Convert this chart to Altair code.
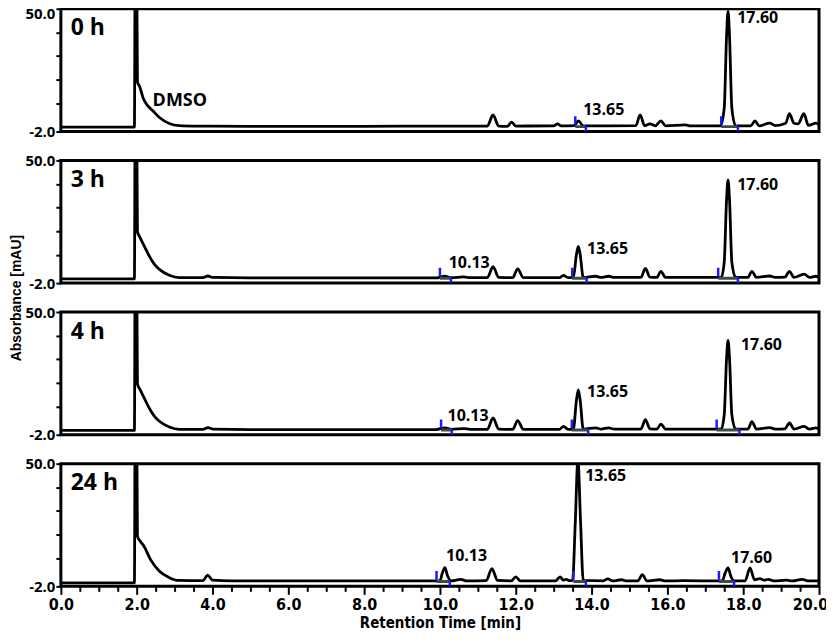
import altair as alt
import pandas as pd

# ---------------- data ----------------
panel_names = ["0 h", "3 h", "4 h", "24 h"]

# trace of each chromatogram: retention time [min] and absorbance [mAU]
t_0h = [0.0, 1.94, 1.96, 2.00, 2.02, 2.08, 2.17, 2.30, 2.43, 2.60, 2.86, 3.12, 3.60, 5.0, 8.0, 10.0,
        11.25, 11.40, 11.55, 11.78, 11.89, 12.00, 13.00, 13.10, 13.20, 13.55, 13.65, 13.78, 14.40,
        15.17, 15.28, 15.40, 15.54, 15.68, 15.83, 15.95, 16.48, 16.60, 17.40, 17.50, 17.56, 17.60,
        17.64, 17.70, 17.80, 18.20, 18.31, 18.42, 18.70, 18.85, 19.12, 19.22, 19.34, 19.45, 19.60,
        19.72, 19.92, 20.0]
v_0h = [-0.2, -0.2, 70, 70, 19.0, 17.0, 12.2, 8.7, 6.7, 3.9, 1.4, 0.5, 0.3, 0.2, 0.2, 0.3,
        0.3, 5.0, 0.3, 0.2, 2.0, 0.3, 0.4, 1.2, 0.4, 0.5, 2.5, 0.4, 0.4,
        0.5, 5.0, 0.5, 1.2, 0.4, 2.5, 0.4, 0.8, 0.4, 0.4, 8.0, 38.0, 49.0,
        38.0, 8.0, 0.4, 0.4, 2.5, 0.4, 1.5, 0.5, 1.5, 5.5, 1.5, 1.2, 5.5,
        0.6, 1.5, 0.8]

t_3h = [0.0, 1.94, 1.96, 2.00, 2.02, 2.08, 2.21, 2.34, 2.47, 2.60, 2.86, 3.12, 3.75, 3.88, 4.00, 5.0,
        9.90, 10.13, 10.30, 10.63, 10.80, 11.25, 11.40, 11.55, 11.92, 12.05, 12.20, 13.15, 13.26,
        13.38, 13.52, 13.60, 13.65, 13.70, 13.78, 14.11, 14.25, 14.45, 14.60, 15.30, 15.42, 15.54,
        15.72, 15.83, 15.95, 16.50, 17.42, 17.50, 17.56, 17.60, 17.64, 17.70, 17.80, 18.12, 18.23,
        18.35, 18.70, 18.85, 19.10, 19.22, 19.34, 19.61, 19.75, 19.92, 20.0]
v_3h = [-0.2, -0.2, 70, 70, 19.7, 17.6, 13.4, 9.2, 5.9, 3.8, 1.3, 0.3, 0.3, 1.0, 0.4, 0.2,
        0.2, 0.9, 0.3, 0.6, 0.3, 0.3, 5.0, 0.4, 0.3, 4.0, 0.3, 0.3, 1.3,
        0.3, 0.4, 10.0, 13.6, 10.0, 0.4, 0.9, 0.4, 0.9, 0.4, 0.4, 4.2, 0.5,
        0.4, 3.0, 0.4, 0.4, 0.4, 7.0, 33.0, 41.7, 33.0, 7.0, 0.4, 0.4, 3.0,
        0.4, 1.0, 0.4, 0.5, 3.0, 0.4, 1.8, 0.4, 0.9, 0.3]

t_4h = [0.0, 1.94, 1.96, 2.00, 2.02, 2.08, 2.21, 2.34, 2.47, 2.60, 2.86, 3.12, 3.75, 3.88, 4.00, 5.0,
        9.90, 10.13, 10.30, 10.63, 10.80, 11.25, 11.40, 11.55, 11.92, 12.05, 12.20, 13.15, 13.26,
        13.38, 13.52, 13.60, 13.65, 13.70, 13.78, 14.11, 14.25, 14.45, 14.60, 15.30, 15.42, 15.54,
        15.72, 15.83, 15.95, 16.50, 17.42, 17.50, 17.56, 17.60, 17.64, 17.70, 17.80, 18.12, 18.23,
        18.35, 18.70, 18.85, 19.10, 19.22, 19.34, 19.61, 19.75, 19.92, 20.0]
v_4h = [-0.2, -0.2, 70, 70, 19.5, 17.4, 13.2, 9.0, 5.8, 3.7, 1.3, 0.3, 0.3, 1.0, 0.4, 0.2,
        0.2, 0.9, 0.3, 0.6, 0.3, 0.3, 5.1, 0.4, 0.3, 4.0, 0.3, 0.3, 1.5,
        0.3, 0.4, 12.5, 17.0, 12.5, 0.4, 0.9, 0.4, 0.9, 0.4, 0.4, 4.4, 0.5,
        0.4, 2.5, 0.4, 0.4, 0.4, 6.5, 30.0, 38.0, 30.0, 6.5, 0.4, 0.4, 3.5,
        0.4, 1.0, 0.4, 0.5, 3.0, 0.4, 1.5, 0.4, 0.9, 0.3]

t_24h = [0.0, 1.94, 1.96, 2.00, 2.02, 2.10, 2.20, 2.37, 2.60, 2.85, 3.10, 3.75, 3.87, 4.00, 4.50,
         10.00, 10.06, 10.13, 10.20, 10.30, 10.55, 10.70, 11.22, 11.37, 11.52, 11.88, 12.00, 12.12,
         13.05, 13.17, 13.25, 13.33, 13.42, 13.50, 13.57, 13.64, 13.71, 13.78, 14.30, 14.43, 14.55,
         14.79, 14.90, 15.22, 15.34, 15.46, 15.80, 15.95, 16.41, 17.45, 17.52, 17.60, 17.68, 17.76,
         18.05, 18.18, 18.30, 18.44, 18.55, 18.66, 18.80, 19.14, 19.30, 19.56, 19.70, 20.0]
v_24h = [-0.5, -0.5, 70, 70, 19.2, 17.0, 14.8, 9.2, 4.4, 1.8, 0.5, 0.4, 2.8, 0.6, 0.3,
         0.3, 3.5, 5.9, 2.5, 0.3, 1.0, 0.3, 0.4, 5.5, 0.5, 0.3, 2.0, 0.3,
         0.3, 2.0, 0.6, 1.0, 0.4, 0.5, 25.0, 52.0, 25.0, 0.5, 0.3, 1.2, 0.3,
         0.8, 0.3, 0.3, 3.0, 0.3, 0.8, 0.3, 0.4, 0.3, 3.5, 5.8, 2.0, 0.3,
         0.3, 5.8, 0.8, 1.3, 0.6, 1.0, 0.3, 0.6, 0.3, 1.0, 0.3, 0.3]

traces_t = [t_0h, t_3h, t_4h, t_24h]
traces_v = [v_0h, v_3h, v_4h, v_24h]

# integration markers (peak start / end) per panel
mark_start = [[13.57, 17.42], [10.00, 13.49, 17.34], [10.03, 13.48, 17.30], [9.91, 13.52, 17.36]]
mark_end = [[13.85, 17.86], [10.29, 13.87, 17.86], [10.31, 13.91, 17.90], [10.26, 13.85, 17.76]]

# peak labels per panel (text, left edge time, vertical centre)
label_text = [["13.65", "17.60"], ["10.13", "13.65", "17.60"], ["10.13", "13.65", "17.60"],
              ["10.13", "13.65", "17.60"]]
label_t = [[13.78, 17.84], [10.23, 13.88, 17.84], [10.20, 13.88, 17.94], [10.16, 13.83, 17.68]]
label_v = [[7.1, 45.9], [6.3, 12.5, 39.7], [6.1, 15.9, 35.9], [10.8, 44.7, 10.2]]

dmso_t, dmso_v = 2.42, 10.8
panel_label_t, panel_label_v = 0.26, 41.7

# axis ticks
y_tick_values = [-2, 10, 20, 30, 40, 49.999]
x_tick_values = [i * 0.5 for i in range(41)]

# ---------------- chart ----------------
W, H = 760, 123
xscale = alt.Scale(domain=[0, 20], nice=False, zero=False)
yscale = alt.Scale(domain=[-2, 50], nice=False, zero=False)

NUM_FONT = "Open Sans"
NARROW = "Liberation Sans Narrow, DejaVu Sans Condensed, sans-serif"


def make_panel(i):
    last = i == len(panel_names) - 1
    if last:
        xaxis = alt.Axis(values=x_tick_values, tickCount=100,
                         labelExpr="datum.value % 2 == 0 ? format(datum.value, '.1f') : ''",
                         tickSize={"condition": {"test": "datum.value % 2 == 0", "value": 8}, "value": 5},
                         labelOffset={"condition": {"test": "datum.value == 20", "value": -9}, "value": 0},
                         tickWidth=2, tickColor="black", domain=False, grid=False,
                         labelFont=NARROW, labelFontSize=16, labelFontWeight="bold",
                         labelColor="black", labelPadding=2, labelFlush=False, labelBound=False,
                         labelOverlap=False,
                         title="Retention Time [min]", titleFont=NARROW, titleFontSize=15,
                         titleFontWeight="bold", titleColor="black", titlePadding=3)
    else:
        xaxis = None
    top_off = 5 if i == 0 else 0
    yaxis = alt.Axis(values=y_tick_values, tickCount=100,
                     labelExpr="datum.value > 49 ? '50.0' : (datum.value == -2 ? '-2.0' : '')",
                     labelOffset={"condition": {"test": "datum.value > 49", "value": top_off}, "value": 0},
                     tickSize=5, tickWidth=2, tickColor="black", domain=False, grid=False,
                     labelFont=NUM_FONT, labelFontSize=15, labelFontWeight="bold",
                     labelColor="black", labelPadding=1, labelOverlap=False, labelBound=False,
                     title="Absorbance [mAU]" if i == 1 else None,
                     titleFont="Liberation Sans, Arial, sans-serif", titleFontSize=14,
                     titleFontWeight="bold", titleColor="black", titlePadding=1,
                     titleY=H + 14.5)
    x = alt.X("t:Q", scale=xscale, axis=xaxis)
    y = alt.Y("v:Q", scale=yscale, axis=yaxis)

    trace = pd.DataFrame({"t": traces_t[i], "v": traces_v[i], "o": list(range(len(traces_t[i])))})
    line = alt.Chart(trace).mark_line(color="black", strokeWidth=2.8, interpolate="monotone",
                                      clip=True, strokeJoin="round").encode(x=x, y=y, order="o:Q")

    n = len(mark_start[i])
    mk = pd.DataFrame({"s": mark_start[i], "e": mark_end[i], "b": [0.05] * n,
                       "s1": [0.8] * n, "s2": [4.5] * n, "e1": [0.3] * n, "e2": [-2.0] * n})
    base_seg = alt.Chart(mk).mark_rule(color="#3d4a4a", strokeWidth=3, clip=True).encode(
        x=alt.X("s:Q", scale=xscale), x2="e:Q", y=alt.Y("b:Q", scale=yscale))
    start_tick = alt.Chart(mk).mark_rule(color="#1a1aff", strokeWidth=2.5, clip=True).encode(
        x=alt.X("s:Q", scale=xscale), y=alt.Y("s1:Q", scale=yscale), y2="s2:Q")
    end_tick = alt.Chart(mk).mark_rule(color="#1a1aff", strokeWidth=2.5, clip=True).encode(
        x=alt.X("e:Q", scale=xscale), y=alt.Y("e1:Q", scale=yscale), y2="e2:Q")

    lab = pd.DataFrame({"t": label_t[i], "v": label_v[i], "txt": label_text[i]})
    labels = alt.Chart(lab).mark_text(align="left", baseline="middle", font=NUM_FONT, fontSize=16,
                                      fontWeight="bold", color="black").encode(
        x=alt.X("t:Q", scale=xscale), y=alt.Y("v:Q", scale=yscale), text="txt:N")

    pl = pd.DataFrame({"t": [panel_label_t], "v": [panel_label_v], "txt": [panel_names[i]]})
    plabel = alt.Chart(pl).mark_text(align="left", baseline="middle", font=NUM_FONT, fontSize=23,
                                     fontWeight="bold", color="black").encode(
        x=alt.X("t:Q", scale=xscale), y=alt.Y("v:Q", scale=yscale), text="txt:N")

    layers = [line, base_seg, start_tick, end_tick, labels, plabel]
    if i == 0:
        dm = pd.DataFrame({"t": [dmso_t], "v": [dmso_v], "txt": ["DMSO"]})
        layers.append(alt.Chart(dm).mark_text(align="left", baseline="middle", font=NUM_FONT,
                                              fontSize=18, fontWeight="bold", color="black").encode(
            x=alt.X("t:Q", scale=xscale), y=alt.Y("v:Q", scale=yscale), text="txt:N"))
    return alt.layer(*layers).properties(width=W, height=H)


chart = alt.vconcat(*[make_panel(i) for i in range(4)], spacing=29, bounds="flush").properties(
    padding={"left": 0, "top": -4, "right": -4, "bottom": 1}, background="white"
).configure_view(stroke="black", strokeWidth=3)

chart.save("out.html", embed_options={"renderer": "svg", "actions": False})
